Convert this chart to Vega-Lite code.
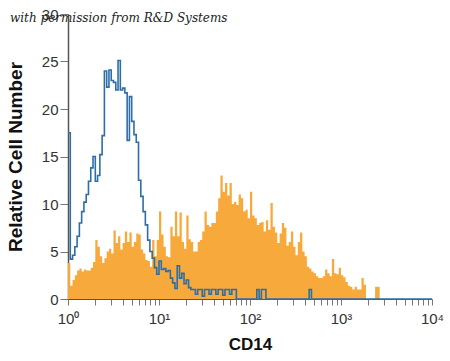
{
  "$schema": "https://vega.github.io/schema/vega-lite/v6.json",
  "width": 364,
  "height": 285,
  "autosize": {"type": "none"},
  "padding": {"left": 68, "top": 14, "right": 18, "bottom": 62},
  "background": "white",
  "title": {
    "text": "with permission from R&D Systems",
    "anchor": "start",
    "frame": "group",
    "dx": -58,
    "offset": -18,
    "font": "DejaVu Serif",
    "fontStyle": "italic",
    "fontWeight": "normal",
    "fontSize": 12,
    "color": "#222222"
  },
  "config": {
    "view": {"stroke": null},
    "font": "Liberation Sans, sans-serif"
  },
  "data": {
    "values": [
      {"L":0.000,"iso":17.5,"cd14":3.8},{"L":0.025,"iso":4.2,"cd14":1.4},{"L":0.050,"iso":4.6,"cd14":2.0},{"L":0.075,"iso":5.5,"cd14":2.5},
      {"L":0.100,"iso":6.6,"cd14":3.0},{"L":0.125,"iso":8.0,"cd14":3.2},{"L":0.150,"iso":9.2,"cd14":2.9},{"L":0.175,"iso":10.2,"cd14":3.1},
      {"L":0.200,"iso":11.0,"cd14":3.0},{"L":0.225,"iso":12.4,"cd14":3.0},{"L":0.250,"iso":13.8,"cd14":3.3},{"L":0.275,"iso":15.0,"cd14":3.9},
      {"L":0.300,"iso":12.4,"cd14":6.2},{"L":0.325,"iso":13.0,"cd14":5.5},{"L":0.350,"iso":15.2,"cd14":4.5},{"L":0.375,"iso":17.2,"cd14":3.8},
      {"L":0.400,"iso":24.0,"cd14":4.3},{"L":0.425,"iso":22.3,"cd14":5.0},{"L":0.450,"iso":24.1,"cd14":5.3},{"L":0.475,"iso":23.0,"cd14":4.8},
      {"L":0.500,"iso":22.8,"cd14":7.2},{"L":0.525,"iso":22.0,"cd14":5.9},{"L":0.550,"iso":25.1,"cd14":6.6},{"L":0.575,"iso":22.0,"cd14":5.2},
      {"L":0.600,"iso":22.2,"cd14":5.9},{"L":0.625,"iso":21.7,"cd14":7.1},{"L":0.650,"iso":16.7,"cd14":6.0},{"L":0.675,"iso":21.3,"cd14":7.0},
      {"L":0.700,"iso":18.7,"cd14":5.5},{"L":0.725,"iso":17.3,"cd14":6.0},{"L":0.750,"iso":16.5,"cd14":6.9},{"L":0.775,"iso":12.5,"cd14":6.8},
      {"L":0.800,"iso":10.8,"cd14":5.2},{"L":0.825,"iso":9.2,"cd14":4.8},{"L":0.850,"iso":7.8,"cd14":4.1},{"L":0.875,"iso":6.2,"cd14":4.0},
      {"L":0.900,"iso":5.0,"cd14":3.4},{"L":0.925,"iso":4.3,"cd14":6.2},{"L":0.950,"iso":3.3,"cd14":4.5},{"L":0.975,"iso":2.6,"cd14":6.2},
      {"L":1.000,"iso":4.0,"cd14":9.2},{"L":1.025,"iso":3.1,"cd14":6.8},{"L":1.050,"iso":3.2,"cd14":5.5},{"L":1.075,"iso":2.9,"cd14":4.5},
      {"L":1.100,"iso":3.0,"cd14":4.4},{"L":1.125,"iso":2.2,"cd14":7.6},{"L":1.150,"iso":1.7,"cd14":6.6},{"L":1.175,"iso":1.1,"cd14":9.2},
      {"L":1.200,"iso":3.5,"cd14":6.6},{"L":1.225,"iso":2.2,"cd14":9.1},{"L":1.250,"iso":2.7,"cd14":6.0},{"L":1.275,"iso":1.6,"cd14":5.3},
      {"L":1.300,"iso":2.0,"cd14":8.8},{"L":1.325,"iso":1.2,"cd14":6.3},{"L":1.350,"iso":1.0,"cd14":6.0},{"L":1.375,"iso":1.0,"cd14":5.0},
      {"L":1.400,"iso":0.5,"cd14":5.0},{"L":1.425,"iso":1.0,"cd14":6.0},{"L":1.450,"iso":1.0,"cd14":6.2},{"L":1.475,"iso":0.3,"cd14":7.1},
      {"L":1.500,"iso":1.0,"cd14":9.2},{"L":1.525,"iso":1.0,"cd14":7.8},{"L":1.550,"iso":0.5,"cd14":7.6},{"L":1.575,"iso":1.0,"cd14":8.0},
      {"L":1.600,"iso":1.0,"cd14":8.0},{"L":1.625,"iso":0.5,"cd14":9.2},{"L":1.650,"iso":1.0,"cd14":10.6},{"L":1.675,"iso":1.0,"cd14":13.0},
      {"L":1.700,"iso":0.4,"cd14":11.3},{"L":1.725,"iso":1.0,"cd14":12.2},{"L":1.750,"iso":1.0,"cd14":10.9},{"L":1.775,"iso":0.5,"cd14":12.2},
      {"L":1.800,"iso":1.0,"cd14":10.0},{"L":1.825,"iso":1.0,"cd14":10.2},{"L":1.850,"iso":0,"cd14":9.9},{"L":1.875,"iso":0,"cd14":11.0},
      {"L":1.900,"iso":0,"cd14":10.6},{"L":1.925,"iso":0,"cd14":9.2},{"L":1.950,"iso":0,"cd14":9.4},{"L":1.975,"iso":0,"cd14":8.5},
      {"L":2.000,"iso":0,"cd14":11.3},{"L":2.025,"iso":0,"cd14":8.8},{"L":2.050,"iso":0,"cd14":8.5},{"L":2.075,"iso":1.0,"cd14":7.8},
      {"L":2.100,"iso":0,"cd14":8.0},{"L":2.125,"iso":1.0,"cd14":8.1},{"L":2.150,"iso":1.0,"cd14":7.1},{"L":2.175,"iso":0,"cd14":8.3},
      {"L":2.200,"iso":0,"cd14":7.3},{"L":2.225,"iso":0,"cd14":10.1},{"L":2.250,"iso":0,"cd14":7.6},{"L":2.275,"iso":0,"cd14":7.0},
      {"L":2.300,"iso":0,"cd14":5.9},{"L":2.325,"iso":0,"cd14":6.9},{"L":2.350,"iso":0,"cd14":8.0},{"L":2.375,"iso":0,"cd14":7.5},
      {"L":2.400,"iso":0,"cd14":5.6},{"L":2.425,"iso":0,"cd14":6.0},{"L":2.450,"iso":0,"cd14":7.1},{"L":2.475,"iso":0,"cd14":5.5},
      {"L":2.500,"iso":0,"cd14":4.6},{"L":2.525,"iso":0,"cd14":6.0},{"L":2.550,"iso":0,"cd14":7.0},{"L":2.575,"iso":0,"cd14":5.0},
      {"L":2.600,"iso":0,"cd14":4.5},{"L":2.625,"iso":0,"cd14":3.4},{"L":2.650,"iso":1.0,"cd14":3.2},{"L":2.675,"iso":0,"cd14":2.9},
      {"L":2.700,"iso":0,"cd14":2.7},{"L":2.725,"iso":0,"cd14":2.4},{"L":2.750,"iso":0,"cd14":2.2},{"L":2.775,"iso":0,"cd14":2.2},
      {"L":2.800,"iso":0,"cd14":2.4},{"L":2.825,"iso":0,"cd14":3.1},{"L":2.850,"iso":0,"cd14":2.7},{"L":2.875,"iso":0,"cd14":2.4},
      {"L":2.900,"iso":0,"cd14":4.2},{"L":2.925,"iso":0,"cd14":2.7},{"L":2.950,"iso":0,"cd14":2.6},{"L":2.975,"iso":0,"cd14":3.3},
      {"L":3.000,"iso":0,"cd14":2.5},{"L":3.025,"iso":0,"cd14":2.3},{"L":3.050,"iso":0,"cd14":1.8},{"L":3.075,"iso":0,"cd14":1.4},
      {"L":3.100,"iso":0,"cd14":1.3},{"L":3.125,"iso":0,"cd14":1.0},{"L":3.150,"iso":0,"cd14":1.3},{"L":3.175,"iso":0,"cd14":1.0},
      {"L":3.200,"iso":0,"cd14":1.0},{"L":3.225,"iso":0,"cd14":2.2},{"L":3.250,"iso":0,"cd14":1.5},{"L":3.275,"iso":0,"cd14":0},
      {"L":3.300,"iso":0,"cd14":0},{"L":3.325,"iso":0,"cd14":0},{"L":3.350,"iso":0,"cd14":0},{"L":3.375,"iso":0,"cd14":1.3},
      {"L":3.400,"iso":0,"cd14":1.3},{"L":3.425,"iso":0,"cd14":0},{"L":3.450,"iso":0,"cd14":0},{"L":3.475,"iso":0,"cd14":0},
      {"L":3.500,"iso":0,"cd14":0},{"L":3.600,"iso":0,"cd14":0},{"L":3.700,"iso":0,"cd14":0},{"L":3.800,"iso":0,"cd14":0},
      {"L":3.900,"iso":0,"cd14":0},{"L":4.000,"iso":0,"cd14":0}
    ]
  },
  "encoding": {
    "x": {
      "field": "L",
      "type": "quantitative",
      "scale": {"domain": [0, 4], "nice": false, "zero": false},
      "axis": {
        "title": "CD14",
        "values": [0,0.30103,0.47712,0.60206,0.69897,0.77815,0.8451,0.90309,0.95424,1,1.30103,1.47712,1.60206,1.69897,1.77815,1.8451,1.90309,1.95424,2,2.30103,2.47712,2.60206,2.69897,2.77815,2.8451,2.90309,2.95424,3,3.30103,3.47712,3.60206,3.69897,3.77815,3.8451,3.90309,3.95424,4],
        "labelExpr": "datum.value == 0 ? '10⁰' : datum.value == 1 ? '10¹' : datum.value == 2 ? '10²' : datum.value == 3 ? '10³' : datum.value == 4 ? '10⁴' : ''",
        "labelFlush": false,
        "labelOverlap": false,
        "grid": false,
        "tickSize": 6,
        "tickColor": "#777777",
        "domainColor": "#555555",
        "labelPadding": 6,
        "labelFontSize": 15,
        "labelColor": "#333333",
        "titleFontSize": 17,
        "titleFontWeight": "bold",
        "titleColor": "#111111",
        "titlePadding": 10
      }
    }
  },
  "layer": [
    {
      "mark": {"type": "area", "interpolate": "step-after", "color": "#F8A93C", "opacity": 1},
      "encoding": {
        "y": {
          "field": "cd14",
          "type": "quantitative",
          "scale": {"domain": [0, 30], "nice": false},
          "axis": {
            "title": "Relative Cell Number",
            "values": [0,5,10,15,20,25,30],
            "grid": false,
            "domainColor": "#555555",
            "domainWidth": 1.5,
            "tickColor": "#777777",
            "tickSize": 8,
            "labelPadding": 2,
            "labelFontSize": 15,
            "labelColor": "#333333",
            "titleFontSize": 19,
            "titleFontWeight": "bold",
            "titleColor": "#111111",
            "titlePadding": 16
          }
        }
      }
    },
    {
      "mark": {"type": "line", "interpolate": "step-after", "color": "#2E6EA6", "strokeWidth": 1.6},
      "encoding": {
        "y": {
          "field": "iso",
          "type": "quantitative",
          "scale": {"domain": [0, 30], "nice": false},
          "axis": {
            "title": "Relative Cell Number",
            "values": [0,5,10,15,20,25,30],
            "grid": false,
            "domainColor": "#555555",
            "domainWidth": 1.5,
            "tickColor": "#777777",
            "tickSize": 8,
            "labelPadding": 2,
            "labelFontSize": 15,
            "labelColor": "#333333",
            "titleFontSize": 19,
            "titleFontWeight": "bold",
            "titleColor": "#111111",
            "titlePadding": 16
          }
        }
      }
    }
  ]
}
